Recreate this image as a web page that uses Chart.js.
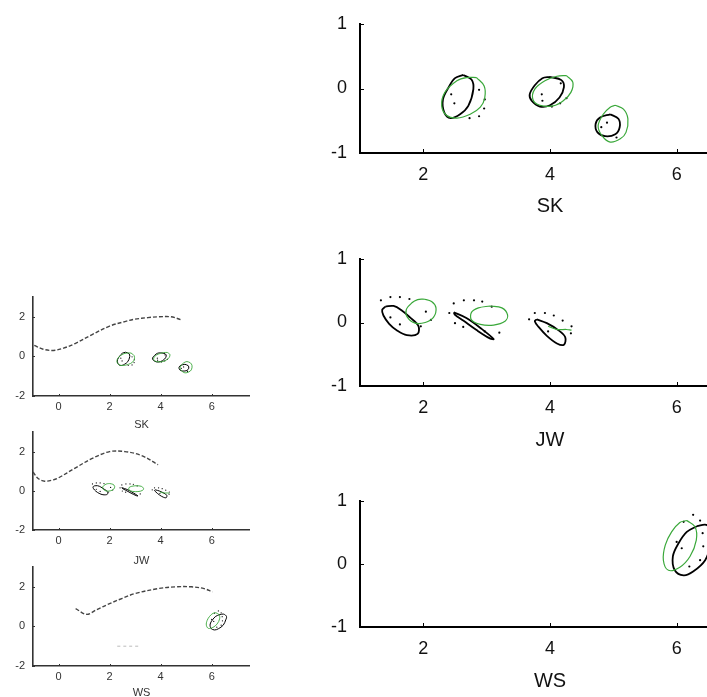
<!DOCTYPE html>
<html><head><meta charset="utf-8">
<script src="https://cdn.jsdelivr.net/npm/chart.js@4.4.1/dist/chart.umd.min.js"></script>
<style>
html,body{margin:0;padding:0;overflow:hidden;background:#fff;width:707px;height:697px;position:relative}
canvas{position:absolute}
</style></head><body>
<canvas id="s1"></canvas><canvas id="s2"></canvas><canvas id="s3"></canvas>
<canvas id="b1"></canvas><canvas id="b2"></canvas><canvas id="b3"></canvas>
<script>
// ---------- tick labels ----------
const xTicksBig = [2, 4, 6];
const yTicksBig = [-1, 0, 1];
const xTicksSmall = [0, 2, 4, 6];
const yTicksSmall = [-2, 0, 2];
const subjects = ['SK', 'JW', 'WS'];

// ---------- trajectories (small panels) ----------
const skCurve = [[-0.95,0.56],[-0.6,0.36],[-0.2,0.30],[0.2,0.42],[0.65,0.65],[1.3,1.09],[2,1.53],[2.6,1.76],[3,1.88],[3.5,1.96],[3.9,2.0],[4.4,2.0],[4.83,1.84]];
const jwCurve = [[-1,0.96],[-0.8,0.63],[-0.54,0.49],[-0.2,0.56],[0,0.66],[0.65,1.16],[1.3,1.64],[2,2.0],[2.6,2.0],[3.25,1.8],[3.9,1.33]];
const wsCurve = [[0.67,0.9],[1.1,0.61],[1.5,0.85],[2,1.15],[2.5,1.42],[3,1.66],[3.9,1.91],[4.6,2.0],[5.2,2.0],[5.7,1.91],[6.03,1.74]];
const wsFaint = [[2.3,-1.0],[3.15,-1.0]];

// ---------- SK contours ----------
const skBlack1 = [[2.63,0.21],[2.76,0.14],[2.79,-0.01],[2.71,-0.27],[2.58,-0.40],[2.43,-0.46],[2.33,-0.37],[2.31,-0.17],[2.40,0.02],[2.50,0.16]];
const skGreen1 = [[2.84,0.17],[2.96,0.04],[2.97,-0.14],[2.90,-0.29],[2.74,-0.40],[2.53,-0.46],[2.37,-0.42],[2.29,-0.27],[2.34,-0.06],[2.53,0.12],[2.68,0.17]];
const skBlack2 = [[4.00,0.18],[4.18,0.13],[4.22,0.02],[4.15,-0.14],[4.00,-0.26],[3.84,-0.28],[3.71,-0.19],[3.68,-0.09],[3.76,0.05],[3.88,0.16]];
const skGreen2 = [[4.26,0.20],[4.36,0.10],[4.33,-0.06],[4.21,-0.19],[4.05,-0.27],[3.84,-0.26],[3.73,-0.17],[3.76,-0.01],[3.92,0.12],[4.11,0.19]];
const skBlack3 = [[4.95,-0.40],[5.08,-0.47],[5.10,-0.60],[5.03,-0.71],[4.87,-0.74],[4.75,-0.68],[4.72,-0.55],[4.79,-0.45]];
const skGreen3 = [[5.03,-0.26],[5.16,-0.32],[5.23,-0.47],[5.20,-0.68],[5.11,-0.78],[4.95,-0.83],[4.82,-0.73],[4.76,-0.58],[4.84,-0.40],[4.95,-0.29]];
const skDots = [[2.44,-0.09],[2.49,-0.23],[2.88,-0.02],[2.97,-0.17],[2.96,-0.31],[2.73,-0.46],[2.88,-0.43],[3.87,-0.09],[3.88,-0.19],[4.03,-0.28],[4.16,-0.23],[4.26,-0.15],[4.17,0.08],[4.81,-0.60],[4.90,-0.53],[5.05,-0.76]];

// ---------- JW contours ----------
const jwBlack1 = [[1.40,0.25],[1.53,0.26],[1.66,0.19],[1.79,0.08],[1.92,-0.05],[1.91,-0.18],[1.74,-0.20],[1.59,-0.13],[1.46,-0.02],[1.37,0.11],[1.35,0.20]];
const jwGreen1 = [[2.00,0.37],[2.13,0.33],[2.20,0.23],[2.16,0.08],[2.03,0.00],[1.87,-0.01],[1.75,0.08],[1.73,0.20],[1.82,0.31],[1.91,0.36]];
const jwBlack2 = [[2.48,0.16],[2.68,0.07],[2.92,-0.10],[3.11,-0.26],[3.05,-0.25],[2.84,-0.12],[2.63,0.03],[2.50,0.12]];
const jwGreen2 = [[3.05,0.26],[3.24,0.23],[3.33,0.12],[3.29,0.02],[3.11,-0.04],[2.90,-0.03],[2.76,0.04],[2.76,0.16],[2.87,0.23]];
const jwBlack3 = [[3.79,0.05],[3.95,-0.01],[4.13,-0.12],[4.24,-0.23],[4.22,-0.35],[4.11,-0.33],[3.95,-0.21],[3.82,-0.07],[3.76,0.02]];
const jwGreen3 = [[3.97,-0.06],[4.11,-0.11],[4.26,-0.11],[4.34,-0.12]];
const jwDots = [[1.33,0.35],[1.48,0.40],[1.63,0.40],[1.78,0.37],[2.04,0.17],[2.12,0.04],[1.96,-0.06],[1.48,0.08],[1.63,-0.03],[2.48,0.30],[2.64,0.35],[2.80,0.35],[2.93,0.33],[2.41,0.15],[2.50,-0.01],[2.63,-0.07],[2.97,-0.14],[3.20,-0.16],[3.08,0.25],[3.67,0.05],[3.76,0.15],[3.92,0.15],[4.06,0.11],[4.20,0.03],[4.34,-0.06],[4.33,-0.17],[3.97,-0.14]];

// ---------- WS contours ----------
const wsGreen = [[6.16,0.69],[6.29,0.59],[6.31,0.38],[6.21,0.12],[6.05,-0.05],[5.87,-0.10],[5.79,0.06],[5.82,0.30],[5.92,0.51],[6.05,0.66]];
const wsBlack = [[6.32,0.60],[6.47,0.62],[6.58,0.50],[6.55,0.33],[6.45,0.06],[6.26,-0.12],[6.11,-0.18],[5.97,-0.10],[5.94,0.12],[6.03,0.33],[6.16,0.51]];
const wsDots = [[6.11,0.67],[6.26,0.78],[6.37,0.69],[6.41,0.49],[6.42,0.28],[6.37,0.06],[6.20,-0.04],[6.08,0.25],[6.00,0.35]];

// ---------- helpers ----------
const GREEN = '#3aa83a';
const pts = a => a.map(p => ({x: p[0], y: p[1]}));
const closed = a => pts(a.concat([a[0]]));
function loop(a, color, w) { return {data: closed(a), showLine: true, borderColor: color, borderWidth: w, pointRadius: 0, tension: 0.35, fill: false}; }
function open(a, color, w, dash) { return {data: pts(a), showLine: true, borderColor: color, borderWidth: w, borderDash: dash || [], pointRadius: 0, tension: 0.35, fill: false}; }
function dots(a, r) { return {data: pts(a), showLine: false, pointRadius: r, pointBackgroundColor: '#000', pointBorderWidth: 0}; }

function contours(key, big) {
  const bw = big ? 1.8 : 1, gw = big ? 1.2 : 0.9, dr = big ? 1.1 : 0.6;
  if (key === 'SK') return [loop(skGreen1,GREEN,gw),loop(skGreen2,GREEN,gw),loop(skGreen3,GREEN,gw),
    loop(skBlack1,'#000',bw),loop(skBlack2,'#000',bw),loop(skBlack3,'#000',bw),dots(skDots,dr)];
  if (key === 'JW') return [loop(jwGreen1,GREEN,gw),loop(jwGreen2,GREEN,gw),open(jwGreen3,GREEN,gw),
    loop(jwBlack1,'#000',bw),loop(jwBlack2,'#000',bw),loop(jwBlack3,'#000',bw),dots(jwDots,dr)];
  return [loop(wsGreen,GREEN,gw),loop(wsBlack,'#000',bw),dots(wsDots,dr)];
}

const inTicks = {
  id: 'inTicks',
  afterDraw(chart, args, o) {
    const {ctx, chartArea: a, scales: {x, y}} = chart;
    ctx.save(); ctx.strokeStyle = o.color; ctx.lineWidth = 1;
    x.ticks.forEach(t => { const p = Math.round(x.getPixelForValue(t.value)) + 0.5; ctx.beginPath(); ctx.moveTo(p, a.bottom); ctx.lineTo(p, a.bottom - o.len); ctx.stroke(); });
    y.ticks.forEach(t => { const p = Math.round(y.getPixelForValue(t.value)) + 0.5; ctx.beginPath(); ctx.moveTo(a.left, p); ctx.lineTo(a.left + o.len, p); ctx.stroke(); });
    ctx.restore();
  }
};

function makeChart(id, L, datasets) {
  const c = document.getElementById(id);
  c.width = L.w; c.height = L.h;
  c.style.left = L.left + 'px'; c.style.top = L.top + 'px';
  c.style.width = L.w + 'px'; c.style.height = L.h + 'px';
  const FONT = '"Liberation Sans", Arial, sans-serif';
  new Chart(c, {
    type: 'scatter',
    data: {datasets},
    options: {
      responsive: false, animation: false, devicePixelRatio: 1,
      layout: {padding: {top: L.padTop, left: 0, right: 0, bottom: 0}, autoPadding: false},
      plugins: {legend: {display: false}, tooltip: {enabled: false}, inTicks: {len: L.tickLen, color: L.axisColor}},
      scales: {
        x: {
          type: 'linear', min: L.xmin, max: L.xmax,
          grid: {display: false, drawTicks: false},
          border: {display: true, color: L.axisColor, width: L.axisW},
          ticks: {padding: L.xPad, color: L.textColor, font: {family: FONT, size: L.tickSize}},
          afterBuildTicks: s => { s.ticks = L.xt.map(v => ({value: v})); },
          afterFit: s => { s.height = L.h - L.plotBottom; s.paddingLeft = 0; s.paddingRight = 0; s.paddingTop = 0; s.paddingBottom = 0; },
          title: {display: true, text: L.title, color: L.textColor, padding: 0, font: {family: FONT, size: L.titleSize}}
        },
        y: {
          type: 'linear', min: L.ymin, max: L.ymax,
          grid: {display: false, drawTicks: false},
          border: {display: true, color: L.axisColor, width: L.axisW},
          ticks: {padding: L.yPad, color: L.textColor, font: {family: FONT, size: L.tickSize}},
          afterBuildTicks: s => { s.ticks = L.yt.map(v => ({value: v})); },
          afterFit: s => { s.width = L.yw; s.paddingTop = 0; s.paddingBottom = 0; s.paddingLeft = 0; s.paddingRight = 0; }
        }
      }
    },
    plugins: [inTicks]
  });
}

// ---------- layout ----------
const bigBase = {left: 300, w: 440, yw: 60, xmin: 1, xmax: 7, ymin: -1, ymax: 1, xt: xTicksBig, yt: yTicksBig,
  tickLen: 4, axisColor: '#000', axisW: 2, textColor: '#111', tickSize: 18, titleSize: 20, xPad: 11, yPad: 13};
const smallBase = {left: 0, w: 250, yw: 33, xmin: -1, xmax: 7.5, ymin: -2, ymax: 3, xt: xTicksSmall, yt: yTicksSmall,
  tickLen: 2, axisColor: '#333', axisW: 1.6, textColor: '#333', tickSize: 11, titleSize: 11, xPad: 4, yPad: 8};

const bigLayouts = [
  {top: 0, padTop: 24, plotBottom: 153, h: 218},
  {top: 230, padTop: 29, plotBottom: 156, h: 222},
  {top: 460, padTop: 41, plotBottom: 167, h: 233}
];
const smallLayouts = [
  {top: 290, padTop: 7, plotBottom: 106, h: 142},
  {top: 420, padTop: 12, plotBottom: 110, h: 148},
  {top: 550, padTop: 17, plotBottom: 116, h: 150}
];

const curves = {SK: skCurve, JW: jwCurve, WS: wsCurve};
subjects.forEach((s, i) => {
  makeChart('b' + (i + 1), Object.assign({}, bigBase, bigLayouts[i], {title: s}), contours(s, true));
  const sm = [open(curves[s], '#444', 1.4, [4, 2])];
  if (s === 'WS') sm.push(open(wsFaint, '#bbb', 1, [3, 3]));
  makeChart('s' + (i + 1), Object.assign({}, smallBase, smallLayouts[i], {title: s}), sm.concat(contours(s, false)));
});
</script>
</body></html>
